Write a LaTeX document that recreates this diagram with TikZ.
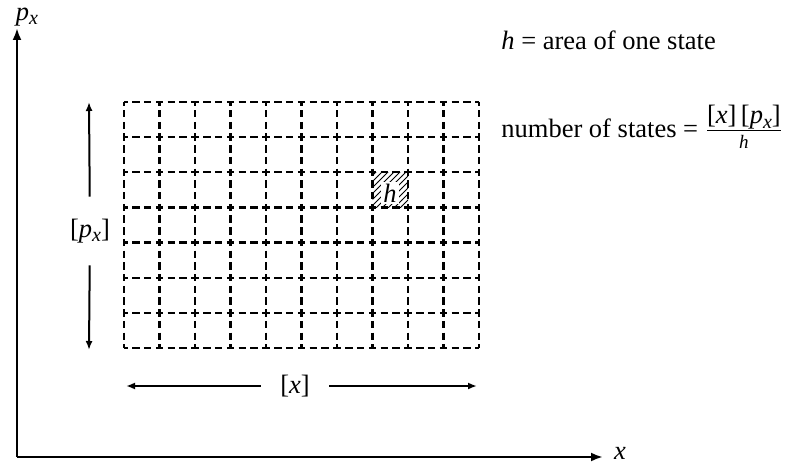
\documentclass[tikz,border=0pt]{standalone}
\usepackage{fontspec}
\setmainfont{Liberation Serif}
\usepackage{tikz}
\usetikzlibrary{arrows.meta,positioning,patterns}

\newcommand{\pxsym}{\textit{p}\raisebox{-0.35ex}{\fontsize{10}{10}\selectfont\textit{x}}}

\tikzset{
  hline/.style={line width=1.2pt,dash pattern=on 3.7pt off 2.217pt,dash phase=1.85pt},
  vline/.style={line width=1.2pt,dash pattern=on 3.66pt off 2.197pt,dash phase=1.83pt},
  dimlab/.style={inner sep=0pt,minimum size=34pt},
}

\begin{document}
\begin{tikzpicture}[x=0.5pt,y=-0.5pt,font=\fontsize{13.25}{16}\selectfont]
    \useasboundingbox (0,0) rectangle (796,464);
    % axes
    \coordinate (O) at (17,457);
    \coordinate (ytip) at (17,28);
    \coordinate (xtip) at (603,457);
    \draw[-{Latex[length=6pt,width=4.5pt]},line width=1.4pt] (O) -- (ytip);
    \draw[-{Latex[length=6pt,width=4.5pt]},line width=1.4pt] (O) -- (xtip);
    \node (pxaxis) at (27,17) {\pxsym};
    \node (xaxis) at (620,453) {\textit{x}};
    % hatched state
    \fill[pattern=north east lines] (372.5,172.3) rectangle (408,207.4);
    % phase space grid
    \foreach \i in {0,...,10}
      \draw[vline] ({124+35.5*\i},102) -- ({124+35.5*\i},348);
    \foreach \j in {0,...,7}
      \draw[hline] (124,{102+35.143*\j}) -- (479,{102+35.143*\j});
    \node[fill=white,inner sep=1pt] (hcell) at (390,193) {\textit{h}};
    % extent in p_x
    \node[dimlab] (plab) at (90,231) {[\pxsym]};
    \coordinate (ptop) at (89,102);
    \coordinate (pbot) at (89,350);
    \draw[-{Latex[length=4.5pt,width=3.5pt]},line width=1pt] (plab) -- (ptop);
    \draw[-{Latex[length=4.5pt,width=3.5pt]},line width=1pt] (plab) -- (pbot);
    % extent in x
    \node[dimlab] (xlab) at (295,386) {[\textit{x}]};
    \coordinate (xleft) at (126,386);
    \coordinate (xright) at (477,386);
    \draw[-{Latex[length=4.5pt,width=3.5pt]},line width=1pt] (xlab) -- (xleft);
    \draw[-{Latex[length=4.5pt,width=3.5pt]},line width=1pt] (xlab) -- (xright);
    % notes
    \node[anchor=base west,inner sep=0pt] (hdef) at (501,50) {\textit{h} = area of one state};
    \node[anchor=base west,inner sep=0pt] (count) at (501,138)
      {number of states = $\frac{\hbox{[\textit{x}]\,[\pxsym]}}{\hbox{\rule{0pt}{8.5pt}\fontsize{9.5}{10}\selectfont\textit{h}}}$};
  \end{tikzpicture}
\end{document}
